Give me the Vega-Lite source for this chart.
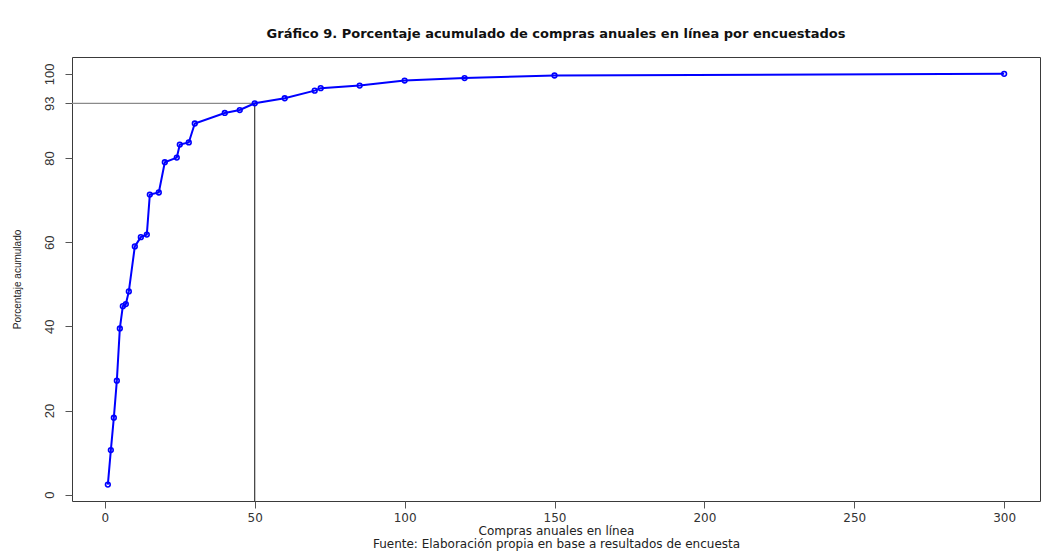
{
  "$schema": "https://vega.github.io/schema/vega-lite/v6.json",
  "autosize": "none",
  "width": 968,
  "height": 444,
  "padding": {"left": 72, "top": 57, "right": 22, "bottom": 53},
  "background": "white",
  "title": {
    "text": "Gráfico 9. Porcentaje acumulado de compras anuales en línea por encuestados",
    "font": "DejaVu Sans",
    "fontSize": 13,
    "fontWeight": "bold",
    "color": "#111111",
    "anchor": "middle",
    "baseline": "alphabetic",
    "offset": 6
  },
  "config": {
    "view": {"stroke": "#3a3a3a", "strokeWidth": 1},
    "axis": {
      "grid": false,
      "domain": false,
      "ticks": true,
      "tickSize": 7,
      "tickColor": "#555555",
      "tickWidth": 1,
      "labelFont": "DejaVu Sans",
      "labelFontSize": 12,
      "labelColor": "#333333",
      "titleFont": "DejaVu Sans",
      "titleFontWeight": "normal",
      "titleColor": "#222222"
    }
  },
  "encoding": {
    "x": {
      "type": "quantitative",
      "scale": {"domain": [-10.96, 311.96], "nice": false, "zero": false},
      "axis": {
        "values": [0, 50, 100, 150, 200, 250, 300],
        "labelPadding": 4,
        "title": ["Compras anuales en línea", "Fuente: Elaboración propia en base a resultados de encuesta"],
        "titleFontSize": 12,
        "titleLineHeight": 13,
        "titleBaseline": "alphabetic",
        "titleAnchor": "middle",
        "titleY": 33
      }
    },
    "y": {
      "type": "quantitative",
      "scale": {"domain": [-1.5, 104.0], "nice": false, "zero": false},
      "axis": {
        "values": [0, 20, 40, 60, 80, 93, 100],
        "labelFont": "Liberation Sans",
        "labelFontSize": 13,
        "labelAngle": -90,
        "labelPadding": 9,
        "title": "Porcentaje acumulado",
        "titleFont": "Liberation Sans",
        "titleFontSize": 10,
        "titleAngle": 270,
        "titleBaseline": "alphabetic",
        "titleAlign": "center",
        "titleX": -52,
        "titleY": 222
      }
    }
  },
  "layer": [
    {
      "data": {"values": [{"desde": -20, "hasta": 50, "nivel": 93}]},
      "mark": {"type": "rule", "color": "#8a8a8a", "strokeWidth": 1.3, "clip": true},
      "encoding": {
        "x": {"field": "desde"},
        "x2": {"field": "hasta"},
        "y": {"field": "nivel"}
      }
    },
    {
      "data": {"values": [{"compras": 50, "base": -10, "nivel": 93}]},
      "mark": {"type": "rule", "color": "#111111", "strokeWidth": 1, "clip": true},
      "encoding": {
        "x": {"field": "compras"},
        "y": {"field": "base"},
        "y2": {"field": "nivel"}
      }
    },
    {
      "data": {"name": "acumulado", "values": [
        {"compras": 1, "porcentaje": 2.4},
        {"compras": 2, "porcentaje": 10.6},
        {"compras": 3, "porcentaje": 18.3},
        {"compras": 4, "porcentaje": 27.1},
        {"compras": 5, "porcentaje": 39.5},
        {"compras": 6, "porcentaje": 44.8},
        {"compras": 7, "porcentaje": 45.3},
        {"compras": 8, "porcentaje": 48.3},
        {"compras": 10, "porcentaje": 59.0},
        {"compras": 12, "porcentaje": 61.2},
        {"compras": 14, "porcentaje": 61.8},
        {"compras": 15, "porcentaje": 71.3},
        {"compras": 18, "porcentaje": 71.8},
        {"compras": 20, "porcentaje": 79.0},
        {"compras": 24, "porcentaje": 80.1},
        {"compras": 25, "porcentaje": 83.2},
        {"compras": 28, "porcentaje": 83.7},
        {"compras": 30, "porcentaje": 88.2},
        {"compras": 40, "porcentaje": 90.7},
        {"compras": 45, "porcentaje": 91.4},
        {"compras": 50, "porcentaje": 93.0},
        {"compras": 60, "porcentaje": 94.2},
        {"compras": 70, "porcentaje": 96.0},
        {"compras": 72, "porcentaje": 96.6},
        {"compras": 85, "porcentaje": 97.2},
        {"compras": 100, "porcentaje": 98.4},
        {"compras": 120, "porcentaje": 99.0},
        {"compras": 150, "porcentaje": 99.6},
        {"compras": 300, "porcentaje": 100}
      ]},
      "encoding": {
        "x": {"field": "compras"},
        "y": {"field": "porcentaje"}
      },
      "layer": [
        {
          "mark": {"type": "point", "filled": false, "shape": "circle", "size": 22, "strokeWidth": 1.6, "color": "#0000ff", "opacity": 1}
        },
        {
          "mark": {"type": "line", "color": "#0000ff", "strokeWidth": 2}
        }
      ]
    }
  ]
}
